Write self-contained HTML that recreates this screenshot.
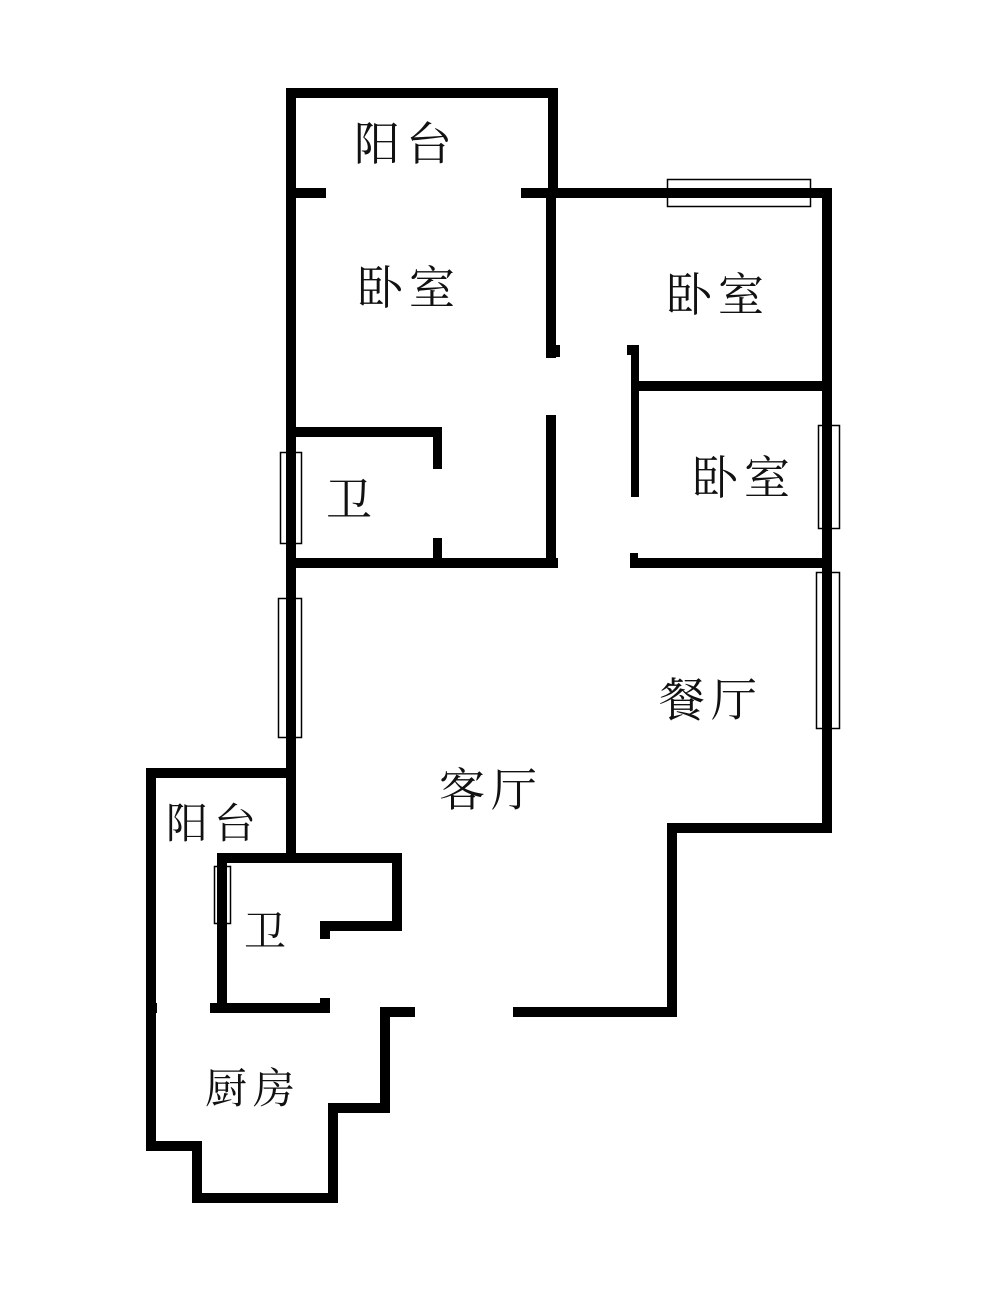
<!DOCTYPE html>
<html><head><meta charset="utf-8"><style>
html,body{margin:0;padding:0;background:#fff;}
svg{display:block;}
text{font-family:"Liberation Serif","Noto Serif CJK SC",serif;fill:#111;}
</style></head><body>
<svg width="1000" height="1303" viewBox="0 0 1000 1303" xmlns="http://www.w3.org/2000/svg">
<rect width="1000" height="1303" fill="#fff"/>
<g fill="#000">
<rect x="286" y="88" width="272" height="10"/>
<rect x="286" y="88" width="10" height="772"/>
<rect x="548" y="88" width="10" height="110"/>
<rect x="286" y="188" width="40" height="10"/>
<rect x="521" y="188" width="311" height="10"/>
<rect x="822" y="188" width="10" height="645"/>
<rect x="546" y="193" width="10" height="165"/>
<rect x="546" y="345" width="14" height="12"/>
<rect x="546" y="415" width="10" height="152"/>
<rect x="627" y="345" width="12" height="10"/>
<rect x="631" y="345" width="8" height="152"/>
<rect x="636" y="381" width="190" height="10"/>
<rect x="291" y="427" width="151" height="10"/>
<rect x="433" y="427" width="9" height="42"/>
<rect x="433" y="538" width="9" height="29"/>
<rect x="291" y="558" width="267" height="10"/>
<rect x="630" y="558" width="196" height="10"/>
<rect x="630" y="553" width="8" height="15"/>
<rect x="672" y="823" width="160" height="10"/>
<rect x="667" y="823" width="10" height="194"/>
<rect x="513" y="1007" width="164" height="10"/>
<rect x="146" y="768" width="150" height="10"/>
<rect x="146" y="768" width="10" height="383"/>
<rect x="146" y="1141" width="56" height="10"/>
<rect x="192" y="1141" width="10" height="62"/>
<rect x="192" y="1193" width="146" height="10"/>
<rect x="328" y="1103" width="10" height="100"/>
<rect x="328" y="1103" width="62" height="10"/>
<rect x="380" y="1007" width="10" height="106"/>
<rect x="380" y="1007" width="35" height="10"/>
<rect x="217" y="853" width="185" height="10"/>
<rect x="392" y="853" width="10" height="78"/>
<rect x="320" y="921" width="82" height="10"/>
<rect x="320" y="921" width="10" height="18"/>
<rect x="217" y="853" width="10" height="160"/>
<rect x="210" y="1003" width="120" height="10"/>
<rect x="320" y="998" width="10" height="10"/>
<rect x="146" y="1003" width="11" height="10"/>
</g>
<g fill="none" stroke="#000" stroke-width="1.5">
<rect x="667.5" y="179.5" width="143" height="27"/>
<rect x="280.5" y="452.5" width="21" height="91"/>
<rect x="818.5" y="425.5" width="21" height="103"/>
<rect x="816.5" y="572.5" width="23" height="156"/>
<rect x="278.5" y="598.5" width="23" height="139"/>
<rect x="214.5" y="866.5" width="16" height="57"/>
</g>
<g font-size="46" text-anchor="middle" letter-spacing="6">
<text x="406" y="160">阳台</text>
<text x="409" y="304">卧室</text>
<text x="718" y="311">卧室</text>
<text x="744" y="494">卧室</text>
<text x="352" y="516">卫</text>
<text x="711" y="716">餐厅</text>
<text x="491" y="806">客厅</text>
<text x="268" y="946" font-size="42">卫</text>
<text x="214" y="838" font-size="42">阳台</text>
<text x="253" y="1103" font-size="42">厨房</text>
</g>
</svg>
</body></html>
